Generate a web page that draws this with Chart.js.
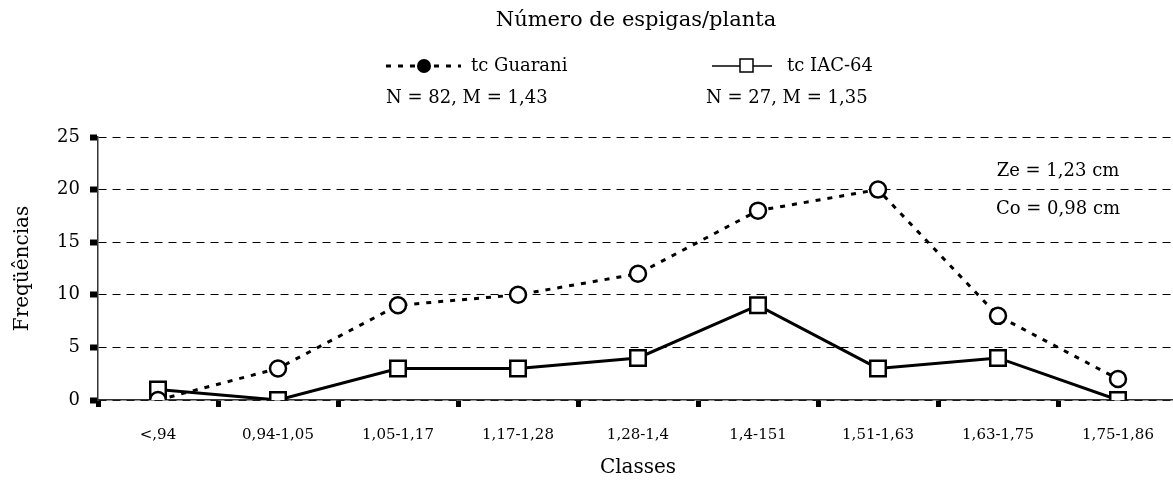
<!DOCTYPE html>
<html>
<head>
<meta charset="utf-8">
<script src="https://cdn.jsdelivr.net/npm/chart.js@4/dist/chart.umd.min.js"></script>
<style>
  html, body { margin: 0; padding: 0; background: #fff; overflow: hidden; }
  #wrap { position: relative; width: 1173px; height: 482px; overflow: hidden; }
  canvas { display: block; }
</style>
</head>
<body>
<div id="wrap"><canvas id="chartEspigas" width="1178" height="482"></canvas></div>
<script>
// Número de espigas/planta - frequências por classe
const classes = ['<,94', '0,94-1,05', '1,05-1,17', '1,17-1,28', '1,28-1,4', '1,4-151', '1,51-1,63', '1,63-1,75', '1,75-1,86'];
const freqGuarani = [0, 3, 9, 10, 12, 18, 20, 8, 2];
const freqIAC64 = [1, 0, 3, 3, 4, 9, 3, 4, 0];
const ticksY = [0, 5, 10, 15, 20, 25];

const titulo = 'Número de espigas/planta';
const legGuarani = ['tc Guarani', 'N = 82, M = 1,43'];
const legIAC = ['tc IAC-64', 'N = 27, M = 1,35'];
const anotacoes = ['Ze = 1,23 cm', 'Co = 0,98 cm'];

const FONTE = '"DejaVu Serif", "Liberation Serif", serif';

// textos extras: título, legenda e anotações
const textosExtras = {
    id: 'textosExtras',
    afterDraw(chart) {
        const ctx = chart.ctx;
        ctx.save();
        ctx.fillStyle = '#000';
        ctx.strokeStyle = '#000';
        ctx.textBaseline = 'middle';

        ctx.font = '21px ' + FONTE;
        ctx.textAlign = 'center';
        ctx.fillText(titulo, 636, 21);

        // legenda Guarani
        ctx.lineWidth = 3;
        ctx.setLineDash([5, 7]);
        ctx.beginPath();
        ctx.moveTo(386, 66); ctx.lineTo(461, 66);
        ctx.stroke();
        ctx.setLineDash([]);
        ctx.beginPath();
        ctx.arc(424, 66, 7, 0, Math.PI * 2);
        ctx.fill();

        // legenda IAC-64
        ctx.lineWidth = 1.5;
        ctx.beginPath();
        ctx.moveTo(712, 66); ctx.lineTo(772, 66);
        ctx.stroke();
        ctx.fillStyle = '#fff';
        ctx.fillRect(740, 59, 13, 13);
        ctx.strokeRect(740, 59, 13, 13);
        ctx.fillStyle = '#000';

        ctx.font = '18px ' + FONTE;
        ctx.textAlign = 'left';
        ctx.fillText(legGuarani[0], 471, 66);
        ctx.fillText(legGuarani[1], 386, 98);
        ctx.fillText(legIAC[0], 787, 66);
        ctx.fillText(legIAC[1], 706, 98);

        ctx.textAlign = 'center';
        ctx.fillText(anotacoes[0], 1058, 171);
        ctx.fillText(anotacoes[1], 1058, 209);
        ctx.restore();
    }
};

const ctx = document.getElementById('chartEspigas').getContext('2d');
new Chart(ctx, {
    type: 'line',
    data: {
        labels: classes,
        datasets: [{
            label: legGuarani[0],
            data: freqGuarani,
            borderColor: '#000',
            borderWidth: 3,
            borderDash: [5, 7],
            pointStyle: 'circle',
            pointRadius: 8,
            pointBorderWidth: 2.5,
            pointBackgroundColor: '#fff',
            pointBorderColor: '#000',
            tension: 0
        }, {
            label: legIAC[0],
            data: freqIAC64,
            borderColor: '#000',
            borderWidth: 3,
            pointStyle: 'rect',
            pointRadius: 11,
            pointBorderWidth: 2.5,
            pointBackgroundColor: '#fff',
            pointBorderColor: '#000',
            tension: 0
        }]
    },
    options: {
        responsive: false,
        animation: false,
        layout: { autoPadding: false, padding: { top: 137, right: 0, left: 0, bottom: 0 } },
        plugins: {
            legend: { display: false },
            tooltip: { enabled: false }
        },
        scales: {
            x: {
                offset: true,
                afterFit: (scale) => { scale.height = 82; scale.paddingLeft = 0; scale.paddingRight = 0; },
                grid: {
                    offset: true,
                    drawOnChartArea: false,
                    tickLength: 7,
                    tickWidth: 5,
                    tickColor: '#000'
                },
                border: { color: '#333', width: 1.5 },
                ticks: { color: '#000', font: { family: FONTE, size: 15 }, padding: 19, maxRotation: 0 },
                title: { display: true, text: 'Classes', color: '#000', font: { family: FONTE, size: 20 }, padding: { top: 8, bottom: 2 } }
            },
            y: {
                min: 0,
                max: 25,
                afterBuildTicks: (axis) => { axis.ticks = ticksY.map(v => ({ value: v })); },
                afterFit: (scale) => { scale.width = 98; },
                grid: {
                    color: '#000',
                    lineWidth: 1,
                    tickBorderDash: [],
                    tickLength: 8,
                    tickWidth: 6,
                    tickColor: '#000'
                },
                border: { color: '#333', width: 1.5, dash: [8, 6] },
                ticks: { color: '#000', font: { family: FONTE, size: 18 }, padding: 10 },
                title: { display: true, text: 'Freqüências', color: '#000', font: { family: FONTE, size: 20 }, padding: { top: 11 } }
            }
        }
    },
    plugins: [textosExtras]
});
</script>
</body>
</html>
